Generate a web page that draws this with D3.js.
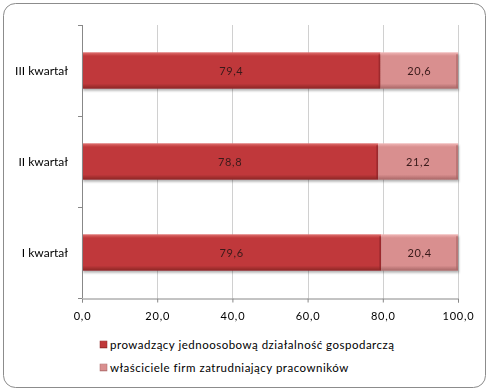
<!DOCTYPE html>
<html>
<head>
<meta charset="utf-8">
<script src="https://cdn.jsdelivr.net/npm/d3@7"></script>
<style>
body { margin: 0; background: #fff; }
text { font-family: Lato, "Open Sans", sans-serif; }
</style>
</head>
<body>
<div id="chart"></div>
<script>
var width = 495, height = 392;

var categories = ["III kwartał", "II kwartał", "I kwartał"];
var seriesNames = ["prowadzący jednoosobową działalność gospodarczą", "właściciele firm zatrudniający pracowników"];
var ownBusiness = [79.4, 78.8, 79.6];
var employers = [20.6, 21.2, 20.4];
var xTicks = [0, 20, 40, 60, 80, 100];

var fmt = function(v) { return d3.format(".1f")(v).replace(".", ","); };

var svg = d3.select("#chart").append("svg")
	.attr("width", width)
	.attr("height", height);

var defs = svg.append("defs");
function addGrad(id, topCol, mid, bottomCol) {
	var g = defs.append("linearGradient").attr("id", id)
		.attr("x1", 0).attr("y1", 0).attr("x2", 0).attr("y2", 1);
	g.append("stop").attr("offset", "0%").attr("stop-color", topCol);
	g.append("stop").attr("offset", "10%").attr("stop-color", mid);
	g.append("stop").attr("offset", "86%").attr("stop-color", mid);
	g.append("stop").attr("offset", "100%").attr("stop-color", bottomCol);
}
addGrad("g0", "#e07070", "#c0393b", "#8a2426");
addGrad("g1", "#f0b8b8", "#d98f8f", "#a86666");
var edgeCols = ["#8a2426", "#a86666"];
var filt = defs.append("filter").attr("id", "shadow").attr("x", "-5%").attr("y", "-10%").attr("width", "110%").attr("height", "140%");
filt.append("feDropShadow").attr("dx", 1).attr("dy", 2).attr("stdDeviation", 1.2).attr("flood-color", "#000").attr("flood-opacity", 0.3);

// frame
svg.append("rect")
	.attr("x", 3.5).attr("y", 3.5)
	.attr("width", 482).attr("height", 384)
	.attr("rx", 12).attr("ry", 12)
	.attr("fill", "#fff")
	.attr("stroke", "#8c8c8c");

var plotLeft = 82, plotRight = 458, plotTop = 25, plotBottom = 298;

var x = d3.scaleLinear().domain([0, 100]).range([plotLeft, plotRight]);
var y = d3.scaleBand().domain(categories).range([plotTop, plotBottom]).paddingInner(0.6).paddingOuter(0.3);
var yBand = d3.scaleBand().domain(categories).range([plotTop, plotBottom]);

// gridlines
svg.append("g").selectAll("line")
	.data(xTicks.slice(1))
	.enter().append("line")
	.attr("x1", function(d) { return Math.round(x(d)) + 0.5; })
	.attr("x2", function(d) { return Math.round(x(d)) + 0.5; })
	.attr("y1", plotTop).attr("y2", plotBottom)
	.attr("stroke", "#d0d0d0");

// bars
var stacks = [ownBusiness, employers];
for (var s = 0; s < stacks.length; s++) {
	var g = svg.append("g").attr("filter", "url(#shadow)");
	categories.forEach(function(c, i) {
		var x0 = s == 0 ? 0 : ownBusiness[i];
		var v = stacks[s][i];
		g.append("rect")
			.attr("x", x(x0))
			.attr("y", y(c))
			.attr("width", x(x0 + v) - x(x0))
			.attr("height", y.bandwidth())
			.attr("fill", "url(#g" + s + ")");
		// bevel at the right end of a segment
		g.append("rect")
			.attr("x", x(x0 + v) - 2)
			.attr("y", y(c) + 2)
			.attr("width", 2)
			.attr("height", y.bandwidth() - 3)
			.attr("fill", edgeCols[s])
			.attr("opacity", 0.6);
	});
}
categories.forEach(function(c, i) {
	for (var s = 0; s < stacks.length; s++) {
		var x0 = s == 0 ? 0 : ownBusiness[i];
		var v = stacks[s][i];
		svg.append("text")
			.attr("x", (x(x0) + x(x0 + v)) / 2)
			.attr("y", y(c) + y.bandwidth() / 2 + 4)
			.attr("text-anchor", "middle")
			.attr("font-size", "11px")
			.attr("letter-spacing", "0.6px")
			.attr("fill", "#3a1a1a")
			.text(fmt(v));
	}
});

// y axis
var yAxis = svg.append("g");
yAxis.append("line")
	.attr("x1", plotLeft + 0.5).attr("x2", plotLeft + 0.5)
	.attr("y1", plotTop).attr("y2", plotBottom)
	.attr("stroke", "#888");
var bounds = categories.map(function(c) { return yBand(c); }).concat([plotBottom]);
yAxis.selectAll(".tk").data(bounds).enter().append("line")
	.attr("x1", plotLeft - 4).attr("x2", plotLeft)
	.attr("y1", function(d) { return Math.round(d) + 0.5; })
	.attr("y2", function(d) { return Math.round(d) + 0.5; })
	.attr("stroke", "#888");
yAxis.selectAll("text").data(categories).enter().append("text")
	.attr("x", 68)
	.attr("y", function(d) { return y(d) + y.bandwidth() / 2 + 4; })
	.attr("text-anchor", "end")
	.attr("font-size", "12px")
	.attr("fill", "#000")
	.text(function(d) { return d; });

// x axis
var xAxis = svg.append("g").attr("transform", "translate(0," + (plotBottom + 0.5) + ")")
	.call(d3.axisBottom(x).tickValues(xTicks).tickSize(4).tickPadding(10).tickFormat(fmt));
xAxis.select(".domain").attr("stroke", "#888");
xAxis.selectAll(".tick line").attr("stroke", "#888");
xAxis.selectAll(".tick text")
	.attr("font-size", "11px")
	.attr("letter-spacing", "0.8px")
	.attr("font-family", "Lato, 'Open Sans', sans-serif")
	.attr("fill", "#000");

// legend
var legend = svg.append("g");
seriesNames.forEach(function(n, i) {
	var ly = 345 + i * 23;
	legend.append("rect")
		.attr("x", 100).attr("y", ly - 4)
		.attr("width", 7).attr("height", 7)
		.attr("fill", "url(#g" + i + ")")
		.attr("stroke", edgeCols[i])
		.attr("stroke-width", 0.5);
	legend.append("text")
		.attr("x", 110).attr("y", ly + 4)
		.attr("font-size", "11.5px")
		.attr("letter-spacing", "0.5px")
		.attr("fill", "#000")
		.text(n);
});
</script>
</body>
</html>
